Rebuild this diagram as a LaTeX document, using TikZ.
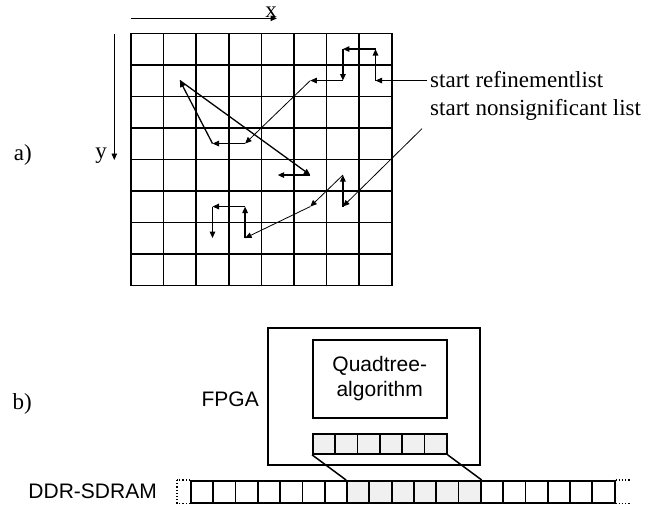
\documentclass[tikz,border=0pt]{standalone}
\usepackage{fontspec}
\setmainfont{Liberation Serif}
\setsansfont{Liberation Sans}
\usetikzlibrary{arrows.meta}
\begin{document}
\begin{tikzpicture}[x=1pt,y=-1pt,
  tip/.style={-{Triangle[length=6.5pt,width=5.5pt]}},
  thickarrow/.style={tip, line width=1.3pt},
  thinarrow/.style={tip, line width=0.8pt},
  gridline/.style={line width=1.5pt, line cap=rect},
  serif/.style={font=\fontsize{23}{27}\selectfont, inner sep=0pt},
  sans/.style={font=\sffamily\fontsize{21}{25}\selectfont, inner sep=0pt},
  box/.style={draw, line width=1.8pt, inner sep=0pt},
  cell/.style={draw, line width=1.8pt, minimum width=22.3pt, inner sep=0pt},
  memcell/.style={cell, minimum height=22pt},
  bufcell/.style={cell, minimum height=20pt, fill=black!6},
  dots/.style={dotted, line width=1.2pt},
]
\useasboundingbox (0,0) rectangle (649,506);

% grid
\foreach \i in {0,...,8} \draw[gridline] ({131+32.6*\i},33.3) -- ({131+32.6*\i},285.3);
\foreach \j in {0,...,8} \draw[gridline] (131,{33.3+31.5*\j}) -- (391.8,{33.3+31.5*\j});
\foreach \i in {0,...,7} \foreach \j in {0,...,7}
  \coordinate (c\i\j) at ({131+32.6*(\i+0.5)},{33.3+31.5*(\j+0.5)});

% axes
\coordinate (xs) at (131,18.3);
\coordinate (xe) at (277,18.3);
\draw[thickarrow] (xs) -- (xe);
\node[serif, anchor=base] (xl) at (271,17.5) {x};
\coordinate (ys) at (114.3,34);
\coordinate (ye) at (114.3,160);
\draw[thinarrow] (ys) -- (ye);
\node[serif, anchor=base] (yl) at (101,158) {y};
\node[serif, anchor=base east] (la) at (32,160) {a)};
\node[serif, anchor=base east] (lb) at (32,409) {b)};

% labels
\node[serif, anchor=base west] (ref) at (430,87) {start refinementlist};
\node[serif, anchor=base west] (nons) at (430,115.5) {start nonsignificant list};
\coordinate (r0) at ([xshift=-3pt]ref.west |- c71);
\coordinate (n0) at ([xshift=-8pt,yshift=-8pt]nons.south west);

% refinement list path
\draw[thinarrow] (r0) -- (c71);
\draw[thickarrow] (c71) -- (c70);
\draw[thickarrow] (c70) -- (c60);
\draw[thickarrow] (c60) -- (c61);
\draw[thinarrow] (c61) -- (c51);
\draw[thinarrow] (c51) -- (c33);
\draw[thickarrow] (c33) -- (c23);
\draw[thickarrow] (c23) -- (c11);
\draw[thickarrow] (c11) -- (c54);
\draw[thickarrow] (c54) -- (c44);

% nonsignificant list path
\draw[thinarrow] (n0) -- (c65);
\draw[thickarrow] (c65) -- (c64);
\draw[thinarrow] (c64) -- (c55);
\draw[thinarrow] (c55) -- (c36);
\draw[thickarrow] (c36) -- (c35);
\draw[thickarrow] (c35) -- (c25);
\draw[thickarrow] (c25) -- (c26);

% part b
\node[box, minimum width=212pt, minimum height=137pt, anchor=north west] (fpga) at (267,327) {};
\node[box, minimum width=134.3pt, minimum height=77.7pt, anchor=north west] (qt) at (311.7,339) {};
\node[sans, align=center] (qtt) at (qt.center) {Quadtree-\\algorithm};
\node[sans, anchor=base east] (fl) at (259,406) {FPGA};
\node[sans, anchor=base east] (dl) at (157,498.3) {DDR-SDRAM};

\foreach \k in {0,...,5}
  \node[bufcell, anchor=north west] (b\k) at ({312+22.3*\k},433) {};
\foreach \k in {0,...,6,13,14,15,16,17,18}
  \node[memcell, anchor=north west] (d\k) at ({190+22.3*\k},480) {};
\foreach \k in {7,...,12}
  \node[memcell, fill=black!6, anchor=north west] (d\k) at ({190+22.3*\k},480) {};

\draw[line width=1.5pt] (b0.south west) -- (d7.north west);
\draw[line width=1.5pt] (b5.south east) -- (d12.north east);

% dotted ends
\coordinate (lt) at ([xshift=-13pt]d0.north west);
\coordinate (lbt) at ([xshift=-13pt]d0.south west);
\draw[dots] (d0.north west) -- (lt);
\draw[dots] (d0.south west) -- (lbt);
\draw[dots] (lt) -- (lbt);
\coordinate (rt) at ([xshift=14pt]d18.north east);
\coordinate (rbt) at ([xshift=14pt]d18.south east);
\draw[dots] (d18.north east) -- (rt);
\draw[dots] (d18.south east) -- (rbt);
\end{tikzpicture}
\end{document}
